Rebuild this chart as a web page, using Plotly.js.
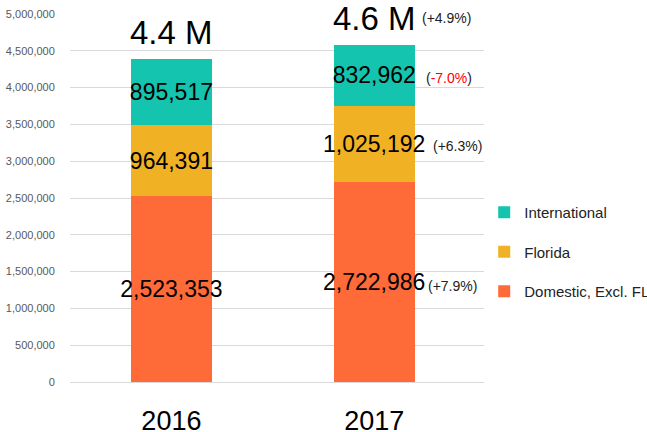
<!DOCTYPE html>
<html><head><meta charset="utf-8">
<script src="https://cdn.plot.ly/plotly-3.0.1.min.js"></script>
<style>html,body{margin:0;padding:0;background:#fff;}#chart{width:647px;height:432px;}</style>
</head><body><div id="chart"></div>
<script>
const years = ['2016', '2017'];
const domestic = [2523353, 2722986];
const florida = [964391, 1025192];
const international = [895517, 832962];
const totalLabels = ['4.4 M', '4.6 M'];
const seriesNames = ['Domestic, Excl. FL', 'Florida', 'International'];
const changeLabels = ['(+7.9%)', '(+6.3%)', '(<span style="color:#ff0000">-7.0%</span>)'];
const totalChange = '(+4.9%)';
const yTicks = [0, 500000, 1000000, 1500000, 2000000, 2500000, 3000000, 3500000, 4000000, 4500000, 5000000];

const FONT = 'Liberation Sans, Arial, sans-serif';
const colors = ['#FF6A39', '#F0B224', '#14C4AE'];
const fmt = v => v.toLocaleString('en-US');
const series = [domestic, florida, international];

const traces = series.map((vals, i) => ({
  type: 'bar', x: years, y: vals, name: seriesNames[i],
  marker: {color: colors[i]},
  text: vals.map(fmt), textposition: 'inside', insidetextanchor: 'middle', constraintext: 'none',
  textangle: 0,
  textfont: {family: FONT, size: 23, color: '#000'},
  legendgroup: 'g' + i, legendrank: 3 - i
}));

// category axes take serial numbers for annotation positions
const totals = years.map((y, k) => domestic[k] + florida[k] + international[k]);
const annotations = [];
years.forEach((y, k) => {
  annotations.push({x: k, y: totals[k], xref: 'x', yref: 'y', text: totalLabels[k],
    showarrow: false, yanchor: 'bottom', yshift: 6,
    font: {family: FONT, size: 33, color: '#000'}});
});
const last = years.length - 1;
const mids = [domestic[last] / 2, domestic[last] + florida[last] / 2, totals[last] - international[last] / 2];
const xs = [52, 57, 50];
const ys = [-4, -2, -3];
changeLabels.forEach((t, i) => {
  annotations.push({x: last, y: mids[i], xref: 'x', yref: 'y', text: t, showarrow: false,
    xanchor: 'left', xshift: xs[i], yshift: ys[i],
    font: {family: FONT, size: 14, color: '#222'}});
});
annotations.push({x: last, y: totals[last], xref: 'x', yref: 'y', text: totalChange, showarrow: false,
  xanchor: 'left', yanchor: 'middle', xshift: 46, yshift: 27,
  font: {family: FONT, size: 14, color: '#222'}});

const layout = {
  width: 647, height: 432,
  margin: {l: 70, r: 157, t: 14, b: 50},
  paper_bgcolor: '#fff', plot_bgcolor: '#fff',
  barmode: 'stack', bargap: 0.6,
  showlegend: true,
  legend: {xref: 'container', yref: 'container', x: 0.7484, xanchor: 'left', y: 0.4167, yanchor: 'middle',
    traceorder: 'grouped', tracegroupgap: 17, font: {family: FONT, size: 15, color: '#222'}},
  xaxis: {type: 'category', showgrid: false, showline: false, zeroline: false,
    ticks: 'outside', ticklen: 15, tickcolor: 'rgba(0,0,0,0)',
    tickfont: {family: FONT, size: 27, color: '#000'}},
  yaxis: {range: [0, 5000000], tickvals: yTicks, ticktext: yTicks.map(fmt),
    showgrid: true, gridcolor: '#d9d9d9', gridwidth: 1, zeroline: true, zerolinecolor: '#d9d9d9',
    showline: false, ticks: 'outside', ticklen: 12, tickcolor: 'rgba(0,0,0,0)',
    tickfont: {family: FONT, size: 11, color: '#595959'}},
  annotations: annotations
};
Plotly.newPlot('chart', traces, layout, {displayModeBar: false, staticPlot: true});
</script></body></html>
